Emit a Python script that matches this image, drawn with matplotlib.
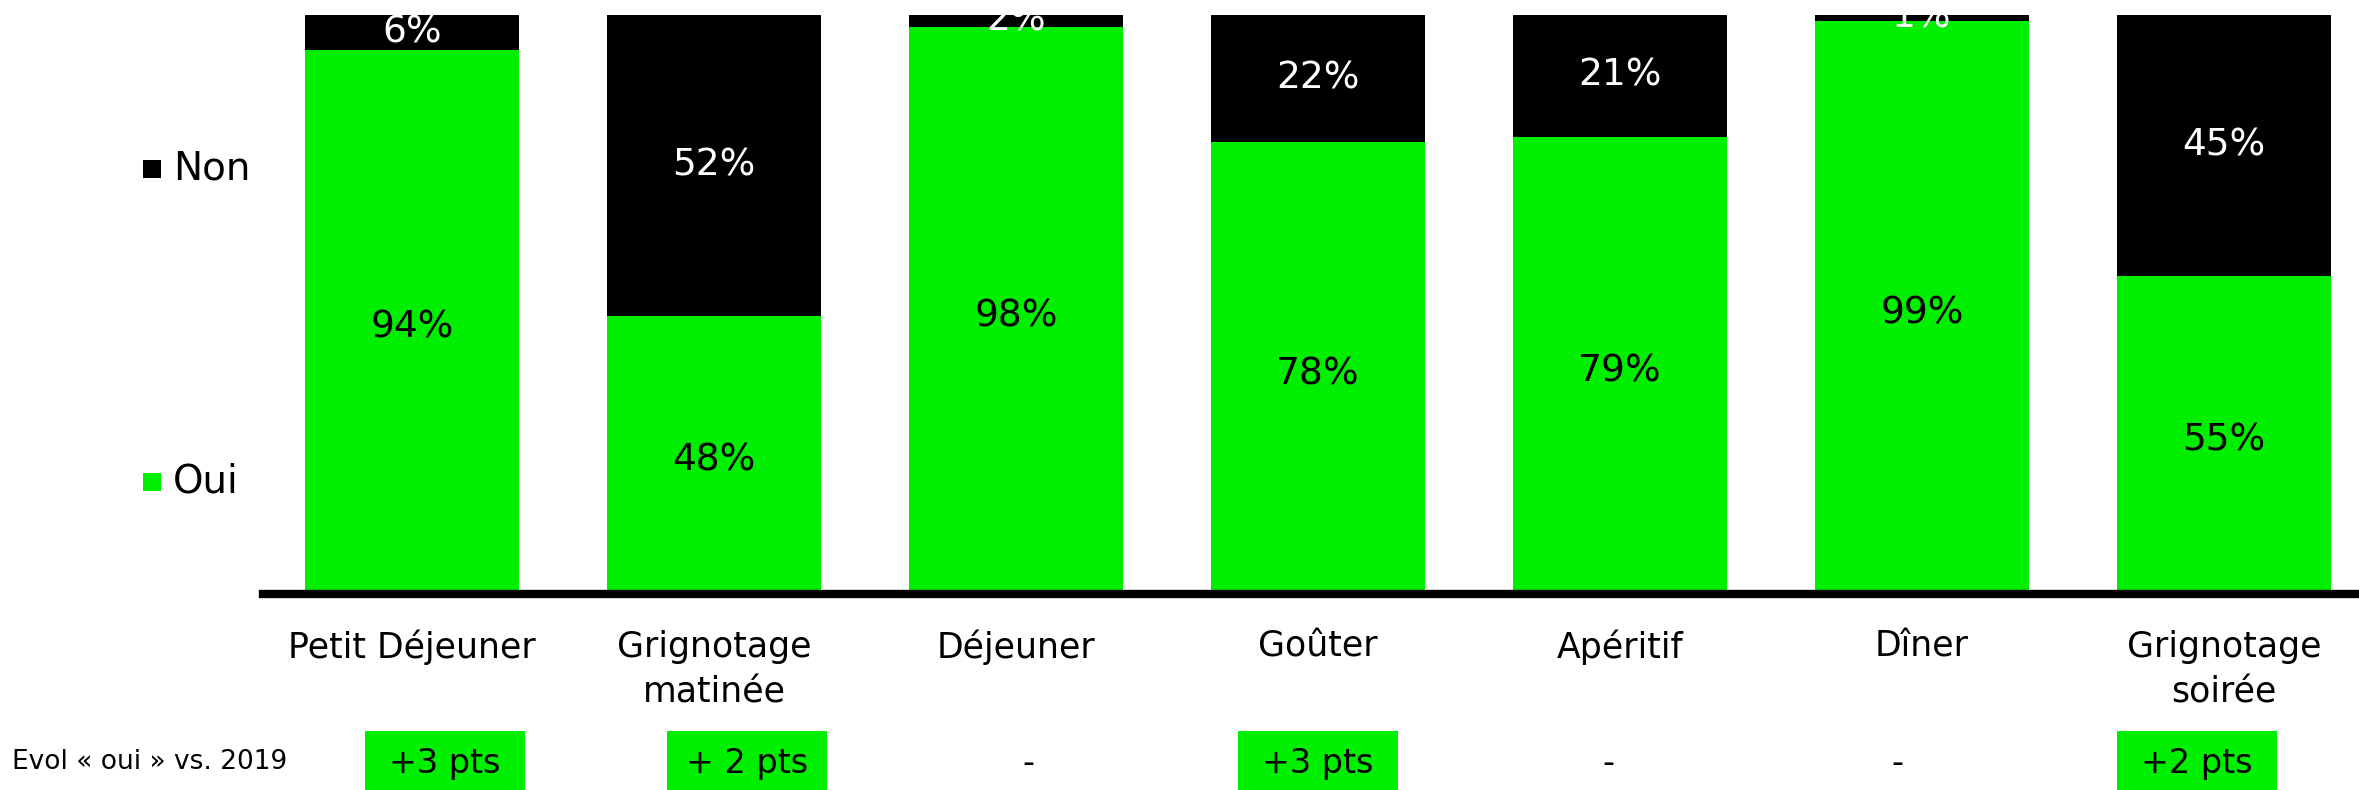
import numpy as np
import matplotlib
matplotlib.use("Agg")
import matplotlib.pyplot as plt
from matplotlib.patches import Rectangle
from matplotlib.transforms import blended_transform_factory

# data
categories = ["Petit Déjeuner", "Grignotage\nmatinée", "Déjeuner", "Goûter",
              "Apéritif", "Dîner", "Grignotage\nsoirée"]
oui = [94, 48, 98, 78, 79, 99, 55]
non = [6, 52, 2, 22, 21, 1, 45]
evol = ["+3 pts", "+ 2 pts", "-", "+3 pts", "-", "-", "+2 pts"]
evol_highlight = [True, True, False, True, False, False, True]
evol_title = "Evol « oui » vs. 2019"

GREEN = "#00ee00"
plt.rcParams["font.family"] = ["DejaVu Sans"]

fig = plt.figure(figsize=(23.59, 7.9), dpi=100)
ax = fig.add_axes([0.1115, 0.248, 0.8885, 0.733])

x = np.arange(len(categories))
w = 0.707
ax.bar(x, oui, w, color=GREEN)
ax.bar(x, non, w, bottom=oui, color="black")

for xi, o, n in zip(x, oui, non):
    ax.text(xi, o / 2 - 1, f"{o}%", ha="center", va="center", fontsize=27,
            color="black")
    ax.text(xi, o + n / 2, f"{n}%", ha="center", va="center", fontsize=27,
            color="white", clip_on=False)

ax.set_xlim(-0.493, 6.447)
ax.set_ylim(0, 100)
for s in ["top", "right", "left"]:
    ax.spines[s].set_visible(False)
ax.spines["bottom"].set_linewidth(6)
ax.set_yticks([])
ax.set_xticks([])

# category labels under the axis
tr = blended_transform_factory(ax.transData, fig.transFigure)
for xi, c in zip(x, categories):
    ax.text(xi, 0.203, c, transform=tr, ha="center", va="top", fontsize=25,
            linespacing=1.45)

# evolution row
evol_dx = [0.11, 0.11, 0.04, 0.0, -0.04, -0.08, -0.09]
for xi, dx, e, hl in zip(x, evol_dx, evol, evol_highlight):
    cx = xi + dx
    if hl:
        ax.add_patch(Rectangle((cx - 0.265, 0.0), 0.53, 0.075, transform=tr,
                               facecolor=GREEN, edgecolor="none", clip_on=False))
    ax.text(cx, 0.033, e, transform=tr, ha="center", va="center", fontsize=24)
fig.text(0.005, 0.035, evol_title, ha="left", va="center", fontsize=19)

# legend
for label, col, yc in [("Non", "black", 0.787), ("Oui", GREEN, 0.391)]:
    fig.patches.append(Rectangle((0.0607, yc - 0.0125), 0.0076, 0.0227,
                                 transform=fig.transFigure, facecolor=col,
                                 edgecolor="none"))
    fig.text(0.0733, yc, label, ha="left", va="center", fontsize=28)

fig.savefig("out.png", dpi=100)
